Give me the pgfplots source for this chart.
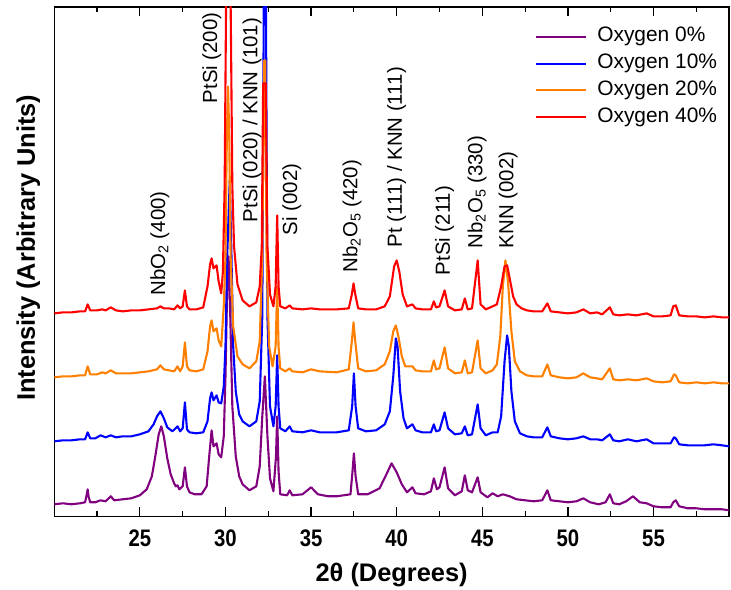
\documentclass[border=0pt]{standalone}
\usepackage{fontspec}
\setmainfont{Liberation Sans}
\newfontfamily\narrowfont[FakeStretch=0.85]{Liberation Sans}
\usepackage{pgfplots}
\pgfplotsset{compat=1.18}
\definecolor{cpurple}{RGB}{128,0,128}
\definecolor{cblue}{RGB}{0,0,255}
\definecolor{corange}{RGB}{255,128,0}
\definecolor{cred}{RGB}{255,0,0}
\begin{document}
\begin{tikzpicture}
\begin{axis}[name=ax, scale only axis, width=675bp, height=509.5bp,
  xmin=20, xmax=59.41, ymin=0, ymax=509.5,
  xtick={25,30,...,55}, minor xtick={22.5,27.5,...,57.5}, ytick=\empty,
  tick align=inside, major tick length=9bp, minor tick length=5bp,
  axis line style={line width=1.5bp},
  every tick/.style={black, line width=1.2bp},
  /pgf/number format/assume math mode=true,
  xticklabel style={font=\narrowfont\bfseries\fontsize{24}{24}\selectfont, yshift=-10bp},
  xlabel={2θ (Degrees)}, ylabel={Intensity (Arbitrary Units)},
  xlabel style={font=\bfseries\fontsize{25.5}{25.5}\selectfont, at={(axis description cs:0.5,0)}, anchor=center, yshift=-59bp},
  ylabel style={font=\bfseries\fontsize{25.5}{25.5}\selectfont, at={(axis description cs:0,0.527)}, anchor=center, yshift=26bp},
  legend style={at={(axis description cs:0.708,0.967)}, anchor=north west, draw=none, fill=none,
    font=\fontsize{21}{21}\selectfont, row sep=4.7bp, nodes={inner sep=2bp, text height=14bp, text depth=4bp}},
  legend cell align=left,
  legend image code/.code={\draw[#1, line width=2.2bp] (0bp,0bp) -- (50bp,0bp); \path (58bp,0bp);},
  every axis plot/.append style={line width=2.1bp, line join=round},
]
\addplot[cpurple] coordinates {
(20.0,12) (20.5,13) (21.0,12) (21.5,13) (21.8,14) (21.9,22) (21.95,27) (22.0,20) (22.1,14) (22.4,14)
(22.7,16) (23.0,15) (23.3,20) (23.5,16) (24.0,17) (24.5,18) (25.0,21) (25.4,27) (25.7,40) (25.9,60)
(26.1,82) (26.25,90) (26.4,80) (26.6,58) (26.8,42) (27.0,33) (27.1,30) (27.2,31) (27.3,27) (27.5,30)
(27.63,49) (27.75,30) (27.9,24) (28.2,22) (28.6,22) (28.9,30) (29.05,60) (29.19,86) (29.3,70) (29.48,73)
(29.6,62) (29.75,59) (29.9,80) (30.0,140) (30.1,230) (30.18,260) (30.28,200) (30.4,110) (30.6,60) (30.8,40)
(31.0,32) (31.4,26) (31.8,30) (32.0,50) (32.15,100) (32.3,140) (32.45,80) (32.6,38) (32.8,25) (32.95,60)
(33.02,100) (33.1,45) (33.2,22) (33.6,21) (33.75,26) (33.9,21) (34.5,22) (35.0,29) (35.4,22) (36.0,20)
(36.5,20) (37.3,22) (37.42,45) (37.5,63) (37.6,40) (37.75,22) (38.3,22) (39.0,28) (39.4,42) (39.7,53)
(40.0,44) (40.3,32) (40.6,24) (40.92,29) (41.1,23) (41.6,22) (42.0,25) (42.17,38) (42.35,27) (42.5,29)
(42.8,49) (43.0,28) (43.4,21) (43.8,25) (43.98,41) (44.15,26) (44.4,24) (44.73,39) (44.9,24) (45.3,19)
(45.6,23) (45.9,20) (46.2,22) (46.6,20) (47.0,17) (47.5,16) (48.0,15) (48.5,16) (48.8,26) (49.0,16)
(49.5,15) (50.0,14) (50.5,15) (50.9,18) (51.3,14) (51.8,12) (52.2,14) (52.45,22) (52.65,13) (53.0,12)
(53.4,15) (53.8,20) (54.2,14) (54.6,13) (55.0,10) (55.5,9) (56.0,9) (56.15,14) (56.3,16) (56.5,10)
(57.0,8) (57.5,8) (58.0,7) (58.5,7) (59.0,7) (59.41,6)
};
\addlegendentry{Oxygen 0\%}
\addplot[cblue] coordinates {
(20.0,75) (20.5,76) (21.0,76) (21.5,77) (21.8,77) (21.95,84) (22.1,78) (22.4,78) (22.7,81) (23.0,79)
(23.3,81) (23.6,79) (24.0,80) (24.5,80) (25.0,82) (25.5,85) (25.8,92) (26.0,100) (26.2,105) (26.4,98)
(26.6,89) (26.9,85) (27.2,90) (27.35,85) (27.5,88) (27.63,114) (27.75,87) (27.9,84) (28.3,83) (28.7,84)
(28.95,95) (29.1,118) (29.19,124) (29.3,116) (29.48,121) (29.6,114) (29.75,113) (29.9,130) (30.0,170) (30.1,260)
(30.25,336) (30.35,260) (30.45,170) (30.6,125) (30.8,102) (31.0,95) (31.4,90) (31.8,95) (32.0,115) (32.15,200)
(32.25,560) (32.35,560) (32.45,200) (32.6,110) (32.8,90) (32.93,110) (33.02,161) (33.1,110) (33.2,88) (33.5,85)
(33.75,90) (33.9,85) (34.5,84) (35.0,86) (35.5,84) (36.5,84) (37.2,86) (37.4,110) (37.5,143) (37.6,110)
(37.75,88) (38.2,85) (38.8,86) (39.3,92) (39.6,105) (39.8,140) (39.95,178) (40.05,170) (40.2,125) (40.4,98)
(40.6,88) (40.92,92) (41.1,86) (41.5,84) (42.0,84) (42.17,92) (42.3,85) (42.5,86) (42.8,104) (43.0,88)
(43.4,82) (43.8,83) (43.98,90) (44.15,81) (44.4,82) (44.73,112) (44.9,88) (45.2,81) (45.6,84) (45.9,84)
(46.1,100) (46.3,155) (46.45,181) (46.55,170) (46.7,125) (46.9,95) (47.2,83) (47.6,80) (48.0,79) (48.5,79)
(48.8,89) (49.0,80) (49.5,78) (50.0,77) (50.5,78) (50.9,80) (51.3,77) (51.7,77) (52.0,76) (52.45,82)
(52.65,76) (53.0,75) (53.5,77) (54.0,75) (54.6,77) (55.0,73) (55.5,73) (56.0,73) (56.2,79) (56.3,78)
(56.5,72) (57.0,71) (57.5,71) (58.0,71) (58.5,72) (59.0,71) (59.41,70)
};
\addlegendentry{Oxygen 10\%}
\addplot[corange] coordinates {
(20.0,139) (20.5,140) (21.0,140) (21.5,141) (21.8,141) (21.95,150) (22.1,142) (22.5,142) (22.8,144) (23.0,143)
(23.3,146) (23.6,143) (24.0,143) (24.5,143) (25.0,144) (25.5,145) (26.0,147) (26.2,151) (26.4,147) (26.7,146)
(27.0,145) (27.2,150) (27.35,145) (27.5,150) (27.63,174) (27.75,150) (27.9,146) (28.3,145) (28.7,147) (28.95,165)
(29.1,190) (29.19,196) (29.3,185) (29.48,188) (29.6,176) (29.75,170) (29.9,210) (30.0,260) (30.08,380) (30.15,430)
(30.22,380) (30.3,260) (30.45,190) (30.7,160) (31.0,152) (31.4,148) (31.8,155) (32.0,175) (32.15,260) (32.25,456)
(32.32,456) (32.4,260) (32.55,170) (32.75,150) (32.93,170) (33.02,230) (33.1,170) (33.2,148) (33.5,145) (33.75,148)
(33.9,145) (34.5,144) (35.0,147) (35.5,145) (36.5,144) (37.2,147) (37.38,175) (37.48,194) (37.58,175) (37.75,148)
(38.2,145) (38.8,146) (39.3,152) (39.6,165) (39.8,185) (39.95,191) (40.1,180) (40.3,160) (40.5,150) (40.92,150)
(41.1,146) (41.5,145) (42.0,145) (42.17,156) (42.3,147) (42.5,148) (42.8,169) (43.0,148) (43.4,143) (43.8,144)
(43.98,156) (44.15,143) (44.4,144) (44.73,176) (44.9,148) (45.2,143) (45.6,146) (45.85,152) (46.05,180) (46.2,230)
(46.35,256) (46.5,235) (46.7,185) (46.9,155) (47.2,145) (47.6,141) (48.0,140) (48.5,140) (48.8,152) (49.0,141)
(49.5,139) (50.0,138) (50.5,139) (50.9,143) (51.3,139) (51.7,138) (52.0,137) (52.45,148) (52.65,137) (53.0,136)
(53.5,137) (54.0,136) (54.6,138) (55.0,135) (55.5,134) (56.0,135) (56.2,142) (56.3,141) (56.5,134) (57.0,133)
(57.5,134) (58.0,133) (58.5,134) (59.0,133) (59.41,133)
};
\addlegendentry{Oxygen 20\%}
\addplot[cred] coordinates {
(20.0,203) (20.5,204) (21.0,204) (21.5,205) (21.8,205) (21.95,212) (22.1,206) (22.5,206) (22.8,207) (23.0,206)
(23.3,209) (23.6,206) (24.0,205) (24.5,206) (25.0,206) (25.5,207) (26.0,208) (26.2,210) (26.4,208) (26.7,208)
(27.0,207) (27.2,211) (27.35,208) (27.5,210) (27.63,226) (27.75,210) (27.9,207) (28.3,207) (28.7,209) (28.95,230)
(29.1,252) (29.19,258) (29.3,248) (29.48,251) (29.6,235) (29.75,223) (29.85,245) (29.95,330) (30.02,480) (30.07,600)
(30.25,600) (30.32,480) (30.4,330) (30.5,270) (30.7,232) (31.0,216) (31.4,210) (31.8,214) (32.0,230) (32.12,270)
(32.2,433) (32.35,433) (32.45,270) (32.6,222) (32.8,210) (32.93,230) (33.02,301) (33.1,230) (33.2,210) (33.5,208)
(33.75,211) (33.9,208) (34.5,207) (35.0,208) (35.5,207) (36.5,207) (37.2,208) (37.38,222) (37.48,233) (37.58,222)
(37.75,208) (38.2,207) (38.8,207) (39.3,210) (39.6,220) (39.85,250) (40.0,256) (40.15,245) (40.35,222) (40.6,210)
(40.92,212) (41.1,208) (41.5,207) (42.0,207) (42.17,215) (42.3,209) (42.5,210) (42.8,226) (43.0,210) (43.4,206)
(43.8,207) (43.98,218) (44.15,207) (44.4,208) (44.73,256) (44.9,212) (45.2,207) (45.6,210) (45.85,212) (46.1,230)
(46.3,250) (46.45,251) (46.6,238) (46.8,220) (47.0,212) (47.3,208) (47.6,206) (48.0,205) (48.5,205) (48.8,213)
(49.0,205) (49.5,204) (50.0,203) (50.5,204) (50.9,207) (51.3,203) (51.7,204) (52.0,202) (52.45,209) (52.65,202)
(53.0,201) (53.5,202) (54.0,201) (54.6,203) (55.0,200) (55.5,200) (56.0,201) (56.15,210) (56.3,211) (56.5,201)
(57.0,200) (57.5,200) (58.0,199) (58.5,200) (59.0,199) (59.41,199)
};
\addlegendentry{Oxygen 40\%}
\begin{scope}[every node/.style={rotate=90, anchor=west, inner sep=0pt, font=\fontsize{20.5}{20.5}\selectfont}]
\node at (axis cs:26.17,221) {NbO\textsubscript{2} (400)};
\node at (axis cs:29.2,413) {PtSi (200)};
\node at (axis cs:31.55,294) {PtSi (020) / KNN (101)};
\node at (axis cs:33.88,281) {Si (002)};
\node at (axis cs:37.4,244) {Nb\textsubscript{2}O\textsubscript{5} (420)};
\node at (axis cs:40.0,269) {Pt (111) / KNN (111)};
\node at (axis cs:42.8,241) {PtSi (211)};
\node at (axis cs:44.7,268) {Nb\textsubscript{2}O\textsubscript{5} (330)};
\node at (axis cs:46.5,268) {KNN (002)};
\end{scope}
\end{axis}
\pgfresetboundingbox
\path ([xshift=-54.3bp,yshift=-73.5bp]ax.south west) rectangle ([xshift=2bp,yshift=7bp]ax.north east);
\end{tikzpicture}
\end{document}
